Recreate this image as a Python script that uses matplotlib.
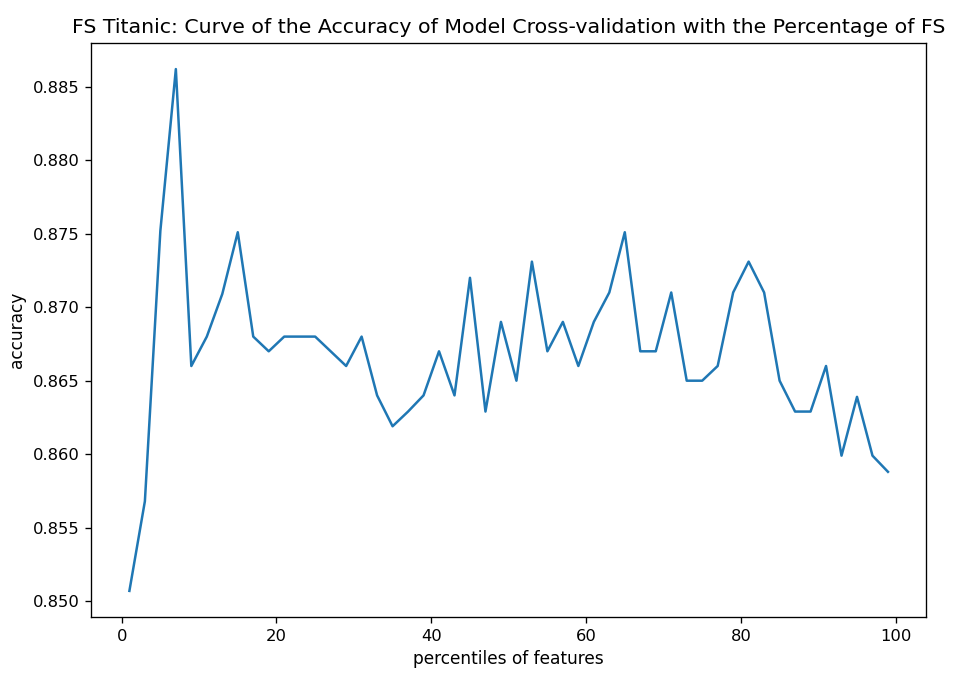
import numpy as np
import matplotlib
matplotlib.use("Agg")
import matplotlib.pyplot as plt

# percentiles of features used in the selection
percentiles = list(range(1, 100, 2))

# cross-validation accuracy for each percentile
accuracy = [0.8507, 0.8568, 0.8752, 0.8862, 0.8660, 0.8680, 0.8709, 0.8751,
            0.8680, 0.8670, 0.8680, 0.8680, 0.8680, 0.8670, 0.8660, 0.8680,
            0.8640, 0.8619, 0.8629, 0.8640, 0.8670, 0.8640, 0.8720, 0.8629,
            0.8690, 0.8650, 0.8731, 0.8670, 0.8690, 0.8660, 0.8690, 0.8710,
            0.8751, 0.8670, 0.8670, 0.8710, 0.8650, 0.8650, 0.8660, 0.8710,
            0.8731, 0.8710, 0.8650, 0.8629, 0.8629, 0.8660, 0.8599, 0.8639,
            0.8599, 0.8588]

# the picture looks like a default figure blown up by about 1.2
s = 1.2
plt.rcParams.update({
    "font.size": 10 * s,
    "axes.titlesize": 12.3 * s,
    "axes.labelsize": 10.2 * s,
    "xtick.labelsize": 9.8 * s,
    "ytick.labelsize": 9.8 * s,
    "lines.linewidth": 1.5 * s,
    "axes.linewidth": 0.8 * s,
    "xtick.major.size": 3.5 * s,
    "ytick.major.size": 3.5 * s,
    "xtick.major.width": 0.8 * s,
    "ytick.major.width": 0.8 * s,
    "xtick.major.pad": 3.5 * s,
    "ytick.major.pad": 3.5 * s,
    "axes.titlepad": 6.0 * s,
    "axes.labelpad": 4.0 * s,
})

fig = plt.figure(figsize=(9.68, 6.78), dpi=100)
ax = fig.add_axes([0.0945, 0.09, 0.862, 0.8466])
ax.plot(percentiles, accuracy)
ax.set_xlabel("percentiles of features")
ax.set_ylabel("accuracy")
ax.set_title("FS Titanic: Curve of the Accuracy of Model Cross-validation with the Percentage of FS")
fig.savefig("out.png", dpi=100)
